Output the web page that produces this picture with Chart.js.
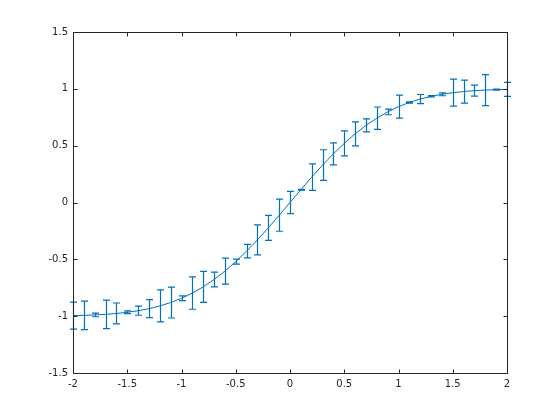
<!DOCTYPE html>
<html>
<head>
<meta charset="utf-8">
<script src="https://cdn.jsdelivr.net/npm/chart.js@4"></script>
<style>
html,body{margin:0;padding:0;background:#fff;}
#wrap{width:560px;height:420px;}
</style>
</head>
<body>
<div id="wrap"><canvas id="c" width="560" height="420"></canvas></div>
<script>
const xValues = [-2.0,-1.9,-1.8,-1.7,-1.6,-1.5,-1.4,-1.3,-1.2,-1.1,-1.0,-0.9,-0.8,-0.7,-0.6,-0.5,-0.4,-0.3,-0.2,-0.1,0.0,0.1,0.2,0.3,0.4,0.5,0.6,0.7,0.8,0.9,1.0,1.1,1.2,1.3,1.4,1.5,1.6,1.7,1.8,1.9,2.0];
const yValues = [-0.995,-0.993,-0.989,-0.984,-0.976,-0.966,-0.952,-0.934,-0.910,-0.880,-0.843,-0.797,-0.742,-0.678,-0.604,-0.520,-0.428,-0.329,-0.223,-0.112,0.000,0.112,0.223,0.329,0.428,0.520,0.604,0.678,0.742,0.797,0.843,0.880,0.910,0.934,0.952,0.966,0.976,0.984,0.989,0.993,0.995];
const errValues = [0.119,0.126,0.016,0.126,0.092,0.012,0.040,0.079,0.141,0.136,0.021,0.142,0.136,0.065,0.114,0.022,0.060,0.132,0.110,0.141,0.097,0.004,0.117,0.135,0.097,0.110,0.106,0.057,0.098,0.025,0.101,0.005,0.040,0.006,0.013,0.119,0.101,0.048,0.136,0.005,0.062];
const xTickValues = [-2,-1.5,-1,-0.5,0,0.5,1,1.5,2];
const yTickValues = [-1.5,-1,-0.5,0,0.5,1,1.5];

const lineColor = '#0072BD';
const axisColor = '#262626';

const errorBarPlugin = {
  id: 'errorBars',
  afterDatasetsDraw(chart) {
    const ctx = chart.ctx, xs = chart.scales.x, ys = chart.scales.y;
    ctx.save();
    ctx.strokeStyle = lineColor;
    ctx.lineWidth = 1.2;
    for (let i = 0; i < xValues.length; i++) {
      const px = Math.round(xs.getPixelForValue(xValues[i])) + 0.5;
      const top = ys.getPixelForValue(yValues[i] + errValues[i]);
      const bot = ys.getPixelForValue(yValues[i] - errValues[i]);
      ctx.beginPath();
      ctx.moveTo(px, top); ctx.lineTo(px, bot);
      ctx.moveTo(px - 3.5, top); ctx.lineTo(px + 3.5, top);
      ctx.moveTo(px - 3.5, bot); ctx.lineTo(px + 3.5, bot);
      ctx.stroke();
    }
    ctx.restore();
  }
};

const boxPlugin = {
  id: 'box',
  afterDraw(chart) {
    const ctx = chart.ctx, a = chart.chartArea, xs = chart.scales.x, ys = chart.scales.y;
    ctx.save();
    ctx.strokeStyle = axisColor;
    ctx.lineWidth = 1;
    const L = Math.round(a.left) + 0.5, R = Math.round(a.right) + 0.5;
    const T = Math.round(a.top) + 0.5, B = Math.round(a.bottom) + 0.5;
    ctx.strokeRect(L, T, R - L, B - T);
    const tl = 4;
    ctx.beginPath();
    xTickValues.forEach(v => {
      const p = Math.round(xs.getPixelForValue(v)) + 0.5;
      ctx.moveTo(p, B); ctx.lineTo(p, B - tl);
      ctx.moveTo(p, T); ctx.lineTo(p, T + tl);
    });
    yTickValues.forEach(v => {
      const p = Math.round(ys.getPixelForValue(v)) + 0.5;
      ctx.moveTo(L, p); ctx.lineTo(L + tl, p);
      ctx.moveTo(R, p); ctx.lineTo(R - tl, p);
    });
    ctx.stroke();
    ctx.restore();
  }
};

new Chart(document.getElementById('c'), {
  type: 'line',
  data: {
    datasets: [{
      data: xValues.map((x, i) => ({ x: x, y: yValues[i] })),
      borderColor: lineColor,
      borderWidth: 1,
      pointRadius: 0,
      tension: 0,
      fill: false
    }]
  },
  options: {
    responsive: false,
    animation: false,
    layout: { padding: { top: 32, right: 53, left: 0, bottom: 0 } },
    plugins: { legend: { display: false }, tooltip: { enabled: false } },
    scales: {
      x: {
        type: 'linear', min: -2, max: 2,
        afterBuildTicks: s => { s.ticks = xTickValues.map(v => ({ value: v })); },
        afterFit: s => { s.height = 47; },
        grid: { display: false, drawTicks: false },
        border: { display: false },
        ticks: { color: axisColor, font: { family: 'DejaVu Sans', size: 10 }, padding: 5, maxRotation: 0, autoSkip: false, callback: v => String(v) }
      },
      y: {
        type: 'linear', min: -1.5, max: 1.5,
        afterBuildTicks: s => { s.ticks = yTickValues.map(v => ({ value: v })); },
        afterFit: s => { s.width = 73; },
        grid: { display: false, drawTicks: false },
        border: { display: false },
        ticks: { color: axisColor, font: { family: 'DejaVu Sans', size: 10 }, padding: 5, autoSkip: false, callback: v => String(v) }
      }
    }
  },
  plugins: [errorBarPlugin, boxPlugin]
});
</script>
</body>
</html>
